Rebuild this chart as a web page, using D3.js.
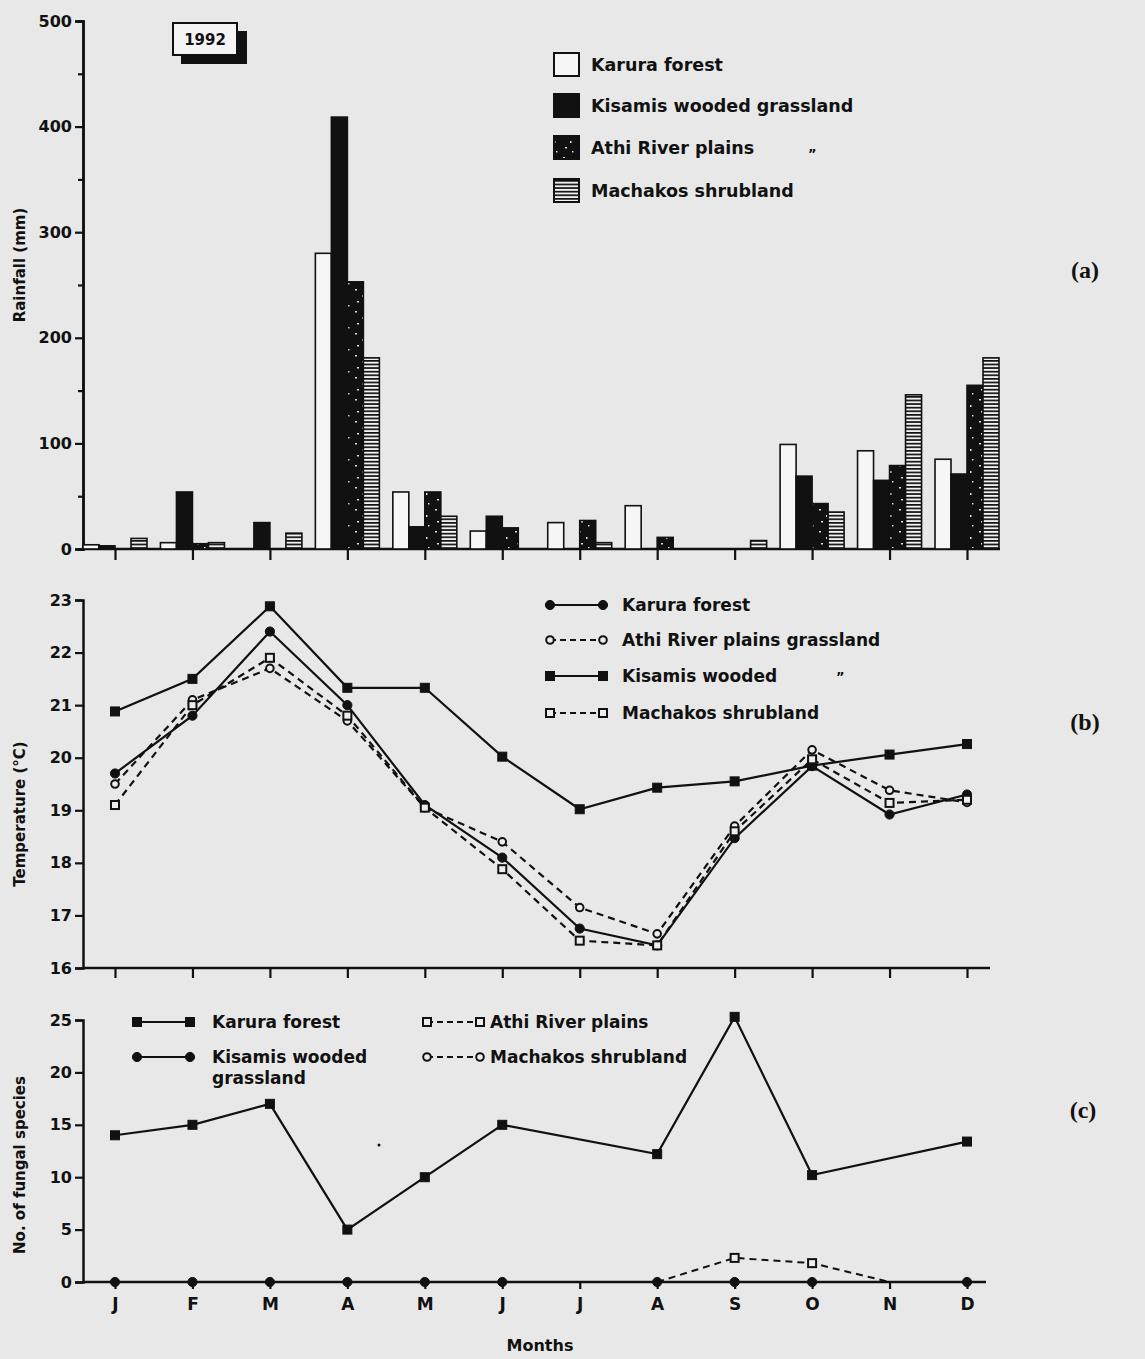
<!DOCTYPE html>
<html><head><meta charset="utf-8">
<script src="https://cdn.jsdelivr.net/npm/d3@7"></script>
<style>
html,body{margin:0;padding:0;background:#e8e8e8;}
svg{display:block;}
text{font-family:"DejaVu Sans",Verdana,sans-serif;font-weight:bold;fill:#111;}
</style></head>
<body>
<script>
// ---------- DATA ----------
const monthKeys = ["Jan","Feb","Mar","Apr","May","Jun","Jul","Aug","Sep","Oct","Nov","Dec"];
const monthLabels = ["J","F","M","A","M","J","J","A","S","O","N","D"];

// (a) Rainfall (mm), 1992
const rainSeries = ["Karura forest","Kisamis wooded grassland","Athi River plains","Machakos shrubland"];
const rainKarura   = [4, 6, 0, 280, 54, 17, 25, 41, 0, 99, 93, 85];
const rainKisamis  = [3, 54, 25, 409, 21, 31, 0, 0, 0, 69, 65, 71];
const rainAthi     = [0, 5, 0, 253, 54, 20, 27, 11, 0, 43, 79, 155];
const rainMachakos = [10, 6, 15, 181, 31, 0, 6, 0, 8, 35, 146, 181];
const rainTicks = [0,100,200,300,400,500];

// (b) Temperature (°C)
const tempKarura   = [19.7, 20.8, 22.4, 21.0, 19.1, 18.1, 16.75, 16.43, 18.47, 19.84, 18.92, 19.3];
const tempAthi     = [19.5, 21.1, 21.7, 20.7, 19.05, 18.4, 17.15, 16.65, 18.7, 20.15, 19.38, 19.15];
const tempKisamis  = [20.88, 21.5, 22.88, 21.33, 21.33, 20.02, 19.02, 19.43, 19.55, 19.85, 20.06, 20.26];
const tempMachakos = [19.1, 21.0, 21.9, 20.8, 19.05, 17.88, 16.52, 16.43, 18.6, 19.97, 19.14, 19.2];
const tempTicks = [16,17,18,19,20,21,22,23];

// (c) No. of fungal species
const fungKarura  = [14, 15, 17, 5, 10, 15, null, 12.2, 25.3, 10.2, null, 13.4];
const fungKisamis = [0, 0, 0, 0, 0, 0, null, 0, 0, 0, null, 0];
const fungAthi    = [null, null, null, null, null, null, null, 0, 2.3, 1.8, 0, null];
const fungTicks = [0,5,10,15,20,25];

// ---------- SETUP ----------
const W = 1145, H = 1359;
const svg = d3.select("body").append("svg").attr("width", W).attr("height", H);
const ink = "#111";
const SANS = "DejaVu Sans, Verdana, sans-serif";

const defs = svg.append("defs");
const pAthi = defs.append("pattern").attr("id","athi").attr("patternUnits","userSpaceOnUse")
  .attr("width",16).attr("height",22);
pAthi.append("rect").attr("width",16).attr("height",22).attr("fill",ink);
[[3,3,2,1.5],[10,9,1.5,2],[5,15,2,1.5],[12,19,1.5,1.5]].forEach(d=>
  pAthi.append("rect").attr("x",d[0]).attr("y",d[1]).attr("width",d[2]).attr("height",d[3]).attr("fill","#ddd"));
const pMach = defs.append("pattern").attr("id","mach").attr("patternUnits","userSpaceOnUse")
  .attr("width",8).attr("height",3.6);
pMach.append("rect").attr("width",8).attr("height",3.6).attr("fill","#f2f2f2");
pMach.append("rect").attr("y",0).attr("width",8).attr("height",1.7).attr("fill",ink);

const rainFill = ["#f6f6f6", ink, "url(#athi)", "url(#mach)"];

const x = d3.scalePoint().domain(monthKeys).range([115, 967]);
const xAxisStart = 83;

function styleAxis(g){
  g.selectAll("path.domain").attr("stroke",ink).attr("stroke-width",2.5);
  g.selectAll(".tick line").attr("stroke",ink).attr("stroke-width",2.2);
  g.selectAll(".tick text").style("font-family",SANS)
    .style("font-weight","bold").style("font-size","16px").attr("fill",ink);
}

// ---------- PANEL A ----------
const yA = d3.scaleLinear().domain([0,500]).range([549, 21]);
const gA = svg.append("g");
gA.append("g").attr("transform",`translate(${xAxisStart},0)`)
  .call(d3.axisLeft(yA).tickValues(d3.range(50,500,100)).tickSize(5).tickFormat(""))
  .call(styleAxis);
gA.append("g").attr("transform",`translate(${xAxisStart},0)`)
  .call(d3.axisLeft(yA).tickValues(rainTicks).tickSize(8).tickPadding(3).tickFormat(d3.format("d")))
  .call(styleAxis);
gA.append("line").attr("x1",xAxisStart).attr("x2",1000).attr("y1",yA(0)).attr("y2",yA(0))
  .attr("stroke",ink).attr("stroke-width",2.5);
gA.append("g").attr("transform",`translate(0,${yA(0)})`)
  .call(d3.axisBottom(x).tickSize(11).tickFormat(""))
  .call(g=>g.select(".domain").remove()).call(styleAxis);

const slot = d3.scaleBand().domain(rainSeries).range([-32, 32]).padding(0);
const rainData = [rainKarura, rainKisamis, rainAthi, rainMachakos];
rainSeries.forEach((s, si) => {
  gA.append("g").selectAll("rect").data(monthKeys.map((m,i)=>({m, v: rainData[si][i]})).filter(d=>d.v>0))
    .join("rect")
    .attr("x", d => x(d.m) + slot(s))
    .attr("width", slot.bandwidth())
    .attr("y", d => yA(d.v))
    .attr("height", d => yA(0) - yA(d.v))
    .attr("fill", rainFill[si])
    .attr("stroke", ink).attr("stroke-width", 1.6);
});

// 1992 box
gA.append("rect").attr("x",181).attr("y",31).attr("width",66).attr("height",33).attr("fill",ink);
gA.append("rect").attr("x",173).attr("y",23).attr("width",64).attr("height",32).attr("fill","#f4f4f4")
  .attr("stroke",ink).attr("stroke-width",2);
gA.append("text").attr("x",205).attr("y",45).attr("text-anchor","middle").style("font-size","15px").text("1992");

// legend a
const legA = gA.append("g");
rainSeries.forEach((s, i) => {
  const yy = [53, 94, 136, 179][i];
  legA.append("rect").attr("x",554).attr("y",yy).attr("width",25).attr("height",23)
    .attr("fill", rainFill[i]).attr("stroke", ink).attr("stroke-width", 2);
  legA.append("text").attr("x",591).attr("y",yy+18).style("font-size","17.5px").text(s);
});
legA.append("text").attr("x",808).attr("y",158).style("font-size","13px").text("\u201D");

svg.append("text").attr("transform","translate(25,265) rotate(-90)").attr("text-anchor","middle")
  .style("font-size","15px").text("Rainfall (mm)");
svg.append("text").attr("x",1085).attr("y",278).attr("text-anchor","middle")
  .style("font-family","Liberation Serif, Times New Roman, serif").style("font-size","24px").text("(a)");

// ---------- PANEL B ----------
const yB = d3.scaleLinear().domain([16,23]).range([968, 600]);
const gB = svg.append("g");
gB.append("g").attr("transform",`translate(${xAxisStart},0)`)
  .call(d3.axisLeft(yB).tickValues(tempTicks).tickSize(8).tickPadding(3).tickFormat(d3.format("d")))
  .call(styleAxis);
gB.append("line").attr("x1",xAxisStart).attr("x2",990).attr("y1",yB(16)).attr("y2",yB(16))
  .attr("stroke",ink).attr("stroke-width",2.5);
gB.append("g").attr("transform",`translate(0,${yB(16)})`)
  .call(d3.axisBottom(x).tickSize(10).tickFormat(""))
  .call(g=>g.select(".domain").remove()).call(styleAxis);

const tempSeries = [
  {name:"Karura forest", v:tempKarura, dash:null, mk:"circle", fill:true},
  {name:"Athi River plains grassland", v:tempAthi, dash:"7,5", mk:"circle", fill:false},
  {name:"Kisamis wooded", v:tempKisamis, dash:null, mk:"square", fill:true},
  {name:"Machakos shrubland", v:tempMachakos, dash:"7,5", mk:"square", fill:false}
];
function drawMarker(g, type, filled, cx, cy){
  if(type==="circle"){
    g.append("circle").attr("cx",cx).attr("cy",cy).attr("r", filled?4.6:3.8)
      .attr("fill", filled?ink:"#eee").attr("stroke",ink).attr("stroke-width",filled?1:2);
  } else {
    const s = filled?9:8;
    g.append("rect").attr("x",cx-s/2).attr("y",cy-s/2).attr("width",s).attr("height",s)
      .attr("fill", filled?ink:"#eee").attr("stroke",ink).attr("stroke-width",filled?1:2);
  }
}
tempSeries.forEach(s => {
  const line = d3.line().x((d,i)=>x(monthKeys[i])).y(d=>yB(d));
  gB.append("path").attr("d", line(s.v)).attr("fill","none").attr("stroke",ink)
    .attr("stroke-width",2.2).attr("stroke-dasharray", s.dash);
});
tempSeries.forEach(s => {
  s.v.forEach((d,i)=> drawMarker(gB, s.mk, s.fill, x(monthKeys[i]), yB(d)));
});
// legend b
tempSeries.forEach((s,i)=>{
  const yy = [605, 640, 676, 713][i];
  gB.append("line").attr("x1",550).attr("x2",603).attr("y1",yy).attr("y2",yy)
    .attr("stroke",ink).attr("stroke-width",2.2).attr("stroke-dasharray", s.dash ? "6,4" : null);
  drawMarker(gB, s.mk, s.fill, 550, yy);
  drawMarker(gB, s.mk, s.fill, 603, yy);
  gB.append("text").attr("x",622).attr("y",yy+6).style("font-size","17px").text(s.name);
});
gB.append("text").attr("x",836).attr("y",681).style("font-size","13px").text("\u201D");

svg.append("text").attr("transform","translate(25,814) rotate(-90)").attr("text-anchor","middle")
  .style("font-size","15px").text("Temperature (\u00B0C)");
svg.append("text").attr("x",1085).attr("y",730).attr("text-anchor","middle")
  .style("font-family","Liberation Serif, Times New Roman, serif").style("font-size","24px").text("(b)");

// ---------- PANEL C ----------
const yC = d3.scaleLinear().domain([0,25]).range([1282, 1020]);
const gC = svg.append("g");
gC.append("g").attr("transform",`translate(${xAxisStart},0)`)
  .call(d3.axisLeft(yC).tickValues(fungTicks).tickSize(8).tickPadding(3).tickFormat(d3.format("d")))
  .call(styleAxis);
gC.append("line").attr("x1",xAxisStart).attr("x2",986).attr("y1",yC(0)).attr("y2",yC(0))
  .attr("stroke",ink).attr("stroke-width",2.5);
gC.append("g").attr("transform",`translate(0,${yC(0)})`)
  .call(d3.axisBottom(x).tickSize(7).tickPadding(9).tickFormat((d,i)=>monthLabels[i]))
  .call(g=>g.select(".domain").remove()).call(styleAxis)
  .call(g=>g.selectAll(".tick text").style("font-size","17px"));

const lineC = d3.line().defined(d=>d!=null).x((d,i)=>x(monthKeys[i])).y(d=>yC(d));
const karPts = fungKarura.map((d,i)=>({i,d})).filter(p=>p.d!=null);
gC.append("path").attr("d", d3.line().x(p=>x(monthKeys[p.i])).y(p=>yC(p.d))(karPts))
  .attr("fill","none").attr("stroke",ink).attr("stroke-width",2.2);
gC.append("path").attr("d", lineC(fungAthi)).attr("fill","none").attr("stroke",ink)
  .attr("stroke-width",2).attr("stroke-dasharray","7,5");
karPts.forEach(p=> drawMarker(gC,"square",true,x(monthKeys[p.i]),yC(p.d)));
fungKisamis.forEach((d,i)=>{ if(d!=null) drawMarker(gC,"circle",true,x(monthKeys[i]),yC(d)); });
fungAthi.forEach((d,i)=>{ if(d!=null && d>0) drawMarker(gC,"square",false,x(monthKeys[i]),yC(d)); });

// legend c
const legC = [
  {name:["Karura forest"], x:137, tx:212, y:1022, mk:"square", fill:true, dash:null},
  {name:["Kisamis wooded","grassland"], x:137, tx:212, y:1057, mk:"circle", fill:true, dash:null},
  {name:["Athi River plains"], x:427, tx:490, y:1022, mk:"square", fill:false, dash:"6,4"},
  {name:["Machakos shrubland"], x:427, tx:490, y:1057, mk:"circle", fill:false, dash:"6,4"}
];
legC.forEach(s=>{
  gC.append("line").attr("x1",s.x).attr("x2",s.x+53).attr("y1",s.y).attr("y2",s.y)
    .attr("stroke",ink).attr("stroke-width",2.2).attr("stroke-dasharray",s.dash);
  drawMarker(gC,s.mk,s.fill,s.x,s.y);
  drawMarker(gC,s.mk,s.fill,s.x+53,s.y);
  s.name.forEach((t,k)=> gC.append("text").attr("x", s.tx).attr("y", s.y+6+k*21)
    .style("font-size","17px").text(t));
});
gC.append("circle").attr("cx",379).attr("cy",1145).attr("r",1.5).attr("fill",ink);

svg.append("text").attr("transform","translate(25,1165) rotate(-90)").attr("text-anchor","middle")
  .style("font-size","15px").text("No. of fungal species");
svg.append("text").attr("x",1083).attr("y",1118).attr("text-anchor","middle")
  .style("font-family","Liberation Serif, Times New Roman, serif").style("font-size","24px").text("(c)");
svg.append("text").attr("x",540).attr("y",1351).attr("text-anchor","middle")
  .style("font-size","16px").text("Months");
</script>
</body></html>
